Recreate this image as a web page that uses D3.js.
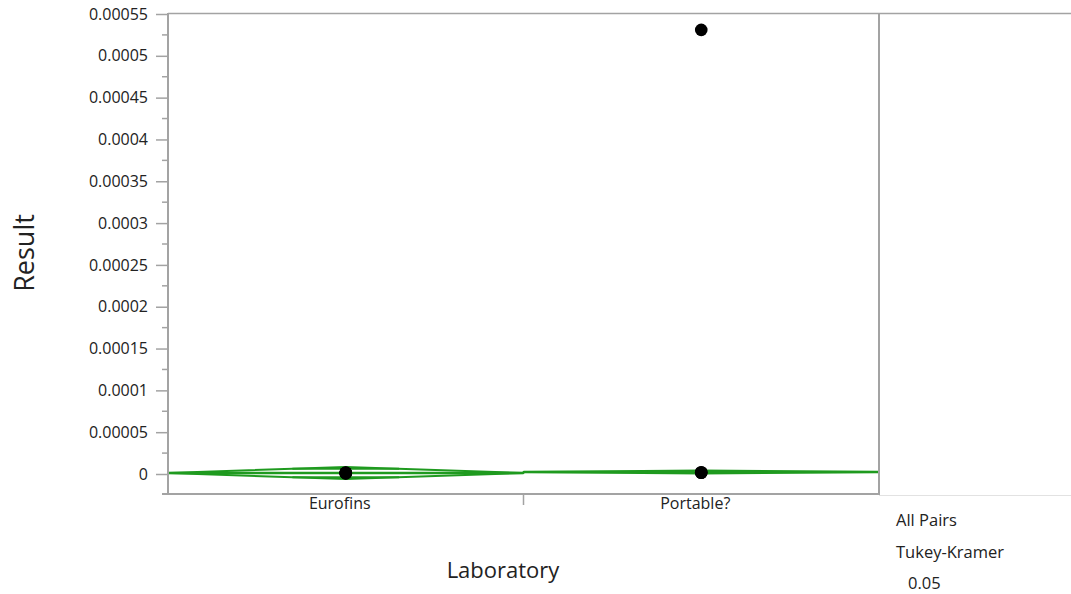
<!DOCTYPE html>
<html><head><meta charset="utf-8">
<script src="https://cdn.jsdelivr.net/npm/d3@7"></script>
<style>body{margin:0;background:#fff}svg{display:block}text{font-family:"Open Sans","Noto Sans",sans-serif;fill:#222}</style>
</head><body><svg id="c" width="1071" height="594"></svg>
<script>
const categories = ["Eurofins", "Portable?"];
const means = [0.0000012, 0.0000024];
const ciLower = [-0.0000060, 0.0000006];
const ciUpper = [0.0000084, 0.0000042];
const pointsEurofins = [0.0000008, 0.0000010, 0.0000012, 0.0000014, 0.0000016];
const pointsPortable = [0.0000015, 0.0000018, 0.0000020, 0.000531];
const yTicks = [0, 0.00005, 0.0001, 0.00015, 0.0002, 0.00025, 0.0003, 0.00035, 0.0004, 0.00045, 0.0005, 0.00055];
const yTickLabels = ["0","0.00005","0.0001","0.00015","0.0002","0.00025","0.0003","0.00035","0.0004","0.00045","0.0005","0.00055"];
const sideNotes = ["All Pairs", "Tukey-Kramer", "0.05"];

const svg = d3.select("#c");
const L = 168, R = 879, T = 14, B = 494;
const y = d3.scaleLinear().domain([0, 0.00055]).range([474, 14]);
const x = d3.scaleBand().domain(categories).range([L, R]);
const green = "#1f9a1f";
const grey = "#a3a3a3";

// extended lines to the right
svg.append("line").attr("x1", R).attr("x2", 1071).attr("y1", T - 0.5).attr("y2", T - 0.5).attr("stroke", grey).attr("stroke-width", 1.5);
svg.append("line").attr("x1", R).attr("x2", 1071).attr("y1", B + 1.5).attr("y2", B + 1.5).attr("stroke", "#e2e2e2").attr("stroke-width", 1);

const plot = svg.append("g");
plot.append("clipPath").attr("id", "clip").append("rect").attr("x", L).attr("y", T).attr("width", R - L).attr("height", B - T);
const inner = plot.append("g").attr("clip-path", "url(#clip)");

// means diamonds
categories.forEach((c, i) => {
  const x0 = x(c), x1 = x(c) + x.bandwidth(), xm = x(c) + x.bandwidth() / 2;
  const ym = y(means[i]);
  inner.append("polygon")
    .attr("points", [[x0, ym], [xm, y(ciUpper[i])], [x1, ym], [xm, y(ciLower[i])]].map(p => p.join(",")).join(" "))
    .attr("fill", "none").attr("stroke", green).attr("stroke-width", 2).attr("stroke-linejoin", "round");
  inner.append("line").attr("x1", x0).attr("x2", x1).attr("y1", ym).attr("y2", ym).attr("stroke", green).attr("stroke-width", 2.5);
  const half = (ciUpper[i] - ciLower[i]) / 2 / Math.SQRT2;
  const w = x.bandwidth() * 0.3;
  [means[i] + half, means[i] - half].forEach(v => {
    inner.append("line").attr("x1", xm - w / 2).attr("x2", xm + w / 2).attr("y1", y(v)).attr("y2", y(v))
      .attr("stroke", green).attr("stroke-width", 2);
  });
});

// points
const pts = [];
pointsEurofins.forEach(v => pts.push([categories[0], v]));
pointsPortable.forEach(v => pts.push([categories[1], v]));
inner.selectAll("circle.p").data(pts).join("circle")
  .attr("cx", d => x(d[0]) + x.bandwidth() / 2).attr("cy", d => y(d[1])).attr("r", 6.3).attr("fill", "#000");

// frame
svg.append("line").attr("x1", L).attr("x2", R).attr("y1", T - 0.5).attr("y2", T - 0.5).attr("stroke", grey).attr("stroke-width", 1.5);
svg.append("line").attr("x1", R).attr("x2", R).attr("y1", T - 1).attr("y2", B + 1).attr("stroke", grey).attr("stroke-width", 2);

// y axis
const ya = svg.append("g").attr("transform", `translate(${L},0)`)
  .call(d3.axisLeft(y).tickValues(yTicks).tickFormat((d, i) => yTickLabels[i]).tickSize(12).tickPadding(8));
ya.select(".domain").remove();
ya.selectAll(".tick line").attr("stroke", grey).attr("stroke-width", 1.5);
ya.selectAll(".tick text").style("font-size", "16px").attr("font-family", null).attr("fill", "#222");
svg.append("line").attr("x1", L).attr("x2", L).attr("y1", T - 1).attr("y2", B + 1).attr("stroke", grey).attr("stroke-width", 2);
// minor ticks
const minor = d3.range(0, yTicks.length - 1).map(i => (yTicks[i] + yTicks[i + 1]) / 2);
minor.push(-0.000025);
svg.selectAll("line.minor").data(minor.filter(v => y(v) <= B)).join("line").attr("class", "minor")
  .attr("x1", L - 6).attr("x2", L).attr("y1", d => y(d)).attr("y2", d => y(d)).attr("stroke", grey).attr("stroke-width", 1.5);

// x axis
svg.append("line").attr("x1", L - 6).attr("x2", R + 1).attr("y1", B).attr("y2", B).attr("stroke", grey).attr("stroke-width", 2);
svg.append("line").attr("x1", x(categories[1])).attr("x2", x(categories[1])).attr("y1", B + 1).attr("y2", B + 11).attr("stroke", grey).attr("stroke-width", 1.5);
svg.selectAll("text.xl").data(categories).join("text").attr("class", "xl")
  .attr("x", d => x(d) + x.bandwidth() / 2 - 6).attr("y", 509).attr("text-anchor", "middle")
  .style("font-size", "16px").text(d => d);

// axis titles
svg.append("text").attr("x", 503).attr("y", 578).attr("text-anchor", "middle").style("font-size", "22px").text("Laboratory");
svg.append("text").attr("transform", "translate(34,253) rotate(-90)").attr("text-anchor", "middle").style("font-size", "27px").text("Result");

// side notes
svg.selectAll("text.sn").data(sideNotes).join("text").attr("class", "sn")
  .attr("x", (d, i) => i === 2 ? 908 : 896).attr("y", (d, i) => 526 + i * 31.5)
  .style("font-size", "16.5px").text(d => d);
</script></body></html>
